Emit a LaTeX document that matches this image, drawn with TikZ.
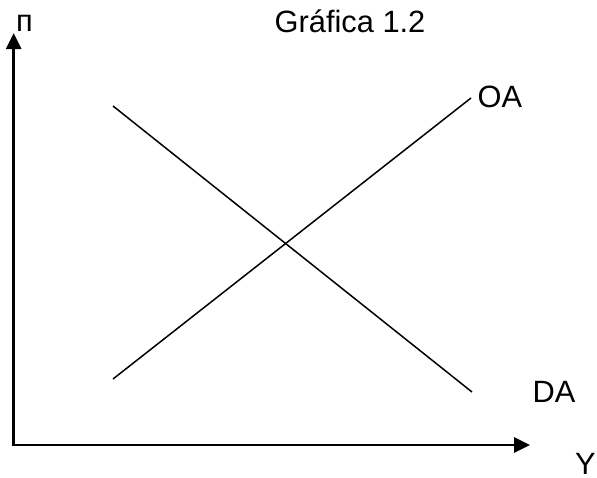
\documentclass[tikz,border=0pt]{standalone}
\usepackage{fontspec}
\setmainfont{Liberation Sans}
\usetikzlibrary{arrows.meta}
\begin{document}
\begin{tikzpicture}[x=1pt,y=-1pt,
  axis/.style={line width=2.7pt,{Triangle[length=16pt,width=15pt]}-{Triangle[length=16pt,width=15pt]}},
  curve/.style={line width=1.5pt},
  lbl/.style={anchor=base west,inner sep=0pt,font=\fontsize{30.8}{36}\selectfont}]
\useasboundingbox (0,0) rectangle (597,477);
\coordinate (ytip) at (13.7,33);
\coordinate (orig) at (13.7,445);
\coordinate (xtip) at (530,445);
\draw[axis] (ytip) -- (orig) -- (xtip);
\coordinate (oa1) at (113,379);
\coordinate (oa2) at (471,98);
\coordinate (da1) at (113,106);
\coordinate (da2) at (472,392);
\draw[curve] (oa1) -- (oa2);
\draw[curve] (da1) -- (da2);
\node[lbl] (pi) at (16,31.5) {п};
\node[lbl] (title) at (274.5,32) {Gráfica 1.2};
\node[lbl] (oa) at (477.5,107.5) {OA};
\node[lbl] (da) at (532.5,402) {DA};
\node[lbl] (y) at (575,474) {Y};
\end{tikzpicture}
\end{document}
